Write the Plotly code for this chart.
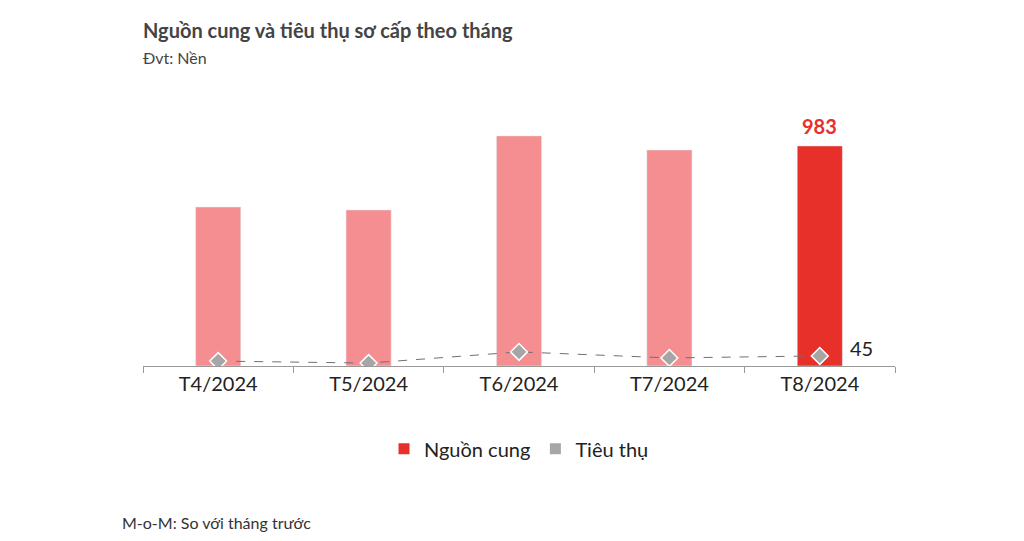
import plotly.graph_objects as go

thang = ["T4/2024", "T5/2024", "T6/2024", "T7/2024", "T8/2024"]
nguon_cung = [710, 697, 1028, 965, 983]
tieu_thu = [22, 13, 63, 36, 45]

mau_bar = ["#F48E91"] * 4 + ["#E8302A"]

fig = go.Figure()
fig.add_bar(x=thang, y=nguon_cung, marker_color=mau_bar, showlegend=False, name="Nguồn cung")
fig.add_scatter(
    x=thang, y=tieu_thu, mode="lines+markers", showlegend=False, name="Tiêu thụ",
    line=dict(color="#707070", width=1, dash="dash"),
    marker=dict(symbol="diamond", size=13, color="#A6A6A6", line=dict(color="white", width=1.5)),
)
# legend chỉ hiển thị ô vuông
fig.add_scatter(x=[None], y=[None], mode="markers", name="Nguồn cung",
                marker=dict(symbol="square", size=11, color="#E8302A"))
fig.add_scatter(x=[None], y=[None], mode="markers", name="Tiêu thụ",
                marker=dict(symbol="square", size=11, color="#A6A6A6"))

fig.add_annotation(x=thang[-1], y=nguon_cung[-1], text="<b>983</b>", showarrow=False,
                   yshift=20, font=dict(size=20, color="#E8302A"))
fig.add_annotation(x=thang[-1], y=tieu_thu[-1], text="45", showarrow=False,
                   xshift=42, yshift=8, font=dict(size=20, color="#222"))

fig.update_layout(
    width=1024, height=541,
    paper_bgcolor="white", plot_bgcolor="white",
    font=dict(family="Lato, Roboto, sans-serif", color="#333"),
    margin=dict(l=135, r=137, t=82, b=183),
    bargap=0.7,
    title=dict(text="<b>Nguồn cung và tiêu thụ sơ cấp theo tháng</b><br><span style='font-size:16px'>Đvt: Nền</span>",
               x=135 / 1024, xanchor="left", y=0.945, yanchor="top", font=dict(size=20, color="#444")),
    legend=dict(orientation="h", x=0.5, xanchor="center", y=-0.30, yanchor="middle",
                font=dict(size=20, color="#222")),
)
fig.update_xaxes(showline=True, linecolor="#999", ticks="outside", tickson="boundaries",
                 tickcolor="#999", ticklen=6, tickfont=dict(size=20, color="#222"))
fig.update_yaxes(visible=False, range=[0, 1233])
fig.add_annotation(text="M-o-M: So với tháng trước", xref="paper", yref="paper",
                   x=-23 / 752, y=-156 / 276, xanchor="left", yanchor="middle",
                   showarrow=False, font=dict(size=16, color="#333"))

fig.write_html("out.html")
